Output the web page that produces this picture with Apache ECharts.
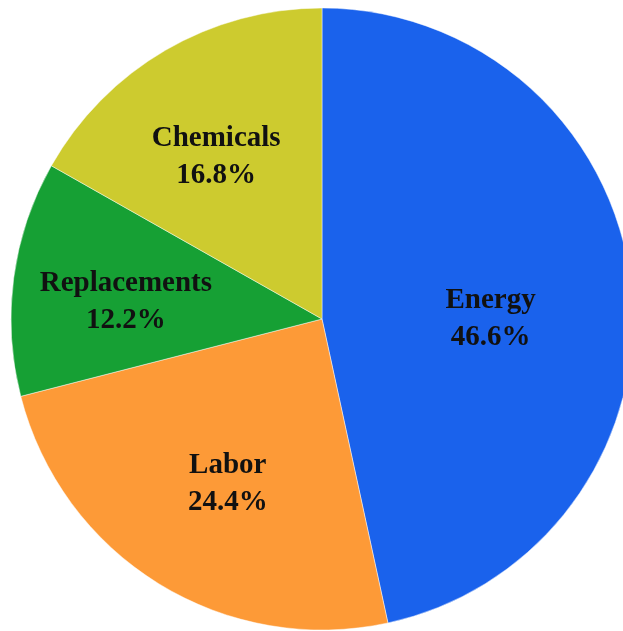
<!DOCTYPE html>
<html>
<head>
<meta charset="utf-8">
<script src="https://cdn.jsdelivr.net/npm/echarts@6/dist/echarts.min.js"></script>
<style>
  html, body { margin: 0; padding: 0; background: #ffffff; }
  #chart { width: 623px; height: 631px; }
</style>
</head>
<body>
<div id="chart"></div>
<script>
// Cost breakdown shares (percent), clockwise from 12 o'clock
const categories = ['Energy', 'Labor', 'Replacements', 'Chemicals'];
const shares = [46.6, 24.4, 12.2, 16.8];
const sliceColors = ['#1a62ec', '#fd9a37', '#16a034', '#cdcb2f'];
// Nudges that move each label from the slice's middle radius
const labelOffsets = [[11, 17], [-11, 30], [-39, 4], [-26, -25]];

const chart = echarts.init(document.getElementById('chart'), null, { renderer: 'canvas' });

const data = categories.map((name, i) => ({
  name: name,
  value: shares[i],
  itemStyle: { color: sliceColors[i] },
  label: { offset: labelOffsets[i] }
}));

chart.setOption({
  animation: false,
  backgroundColor: '#ffffff',
  series: [{
    type: 'pie',
    center: [322, 319],
    radius: 311,
    startAngle: 90,
    clockwise: true,
    avoidLabelOverlap: false,
    itemStyle: { borderColor: 'rgba(255,255,255,0.45)', borderWidth: 1 },
    label: {
      show: true,
      position: 'inside',
      formatter: '{b}\n{c}%',
      fontFamily: '"Liberation Serif", "Times New Roman", serif',
      fontWeight: 'bold',
      fontSize: 29,
      lineHeight: 37,
      color: '#111111',
      align: 'center'
    },
    labelLine: { show: false },
    emphasis: { disabled: true },
    data: data
  }]
});
</script>
</body>
</html>
